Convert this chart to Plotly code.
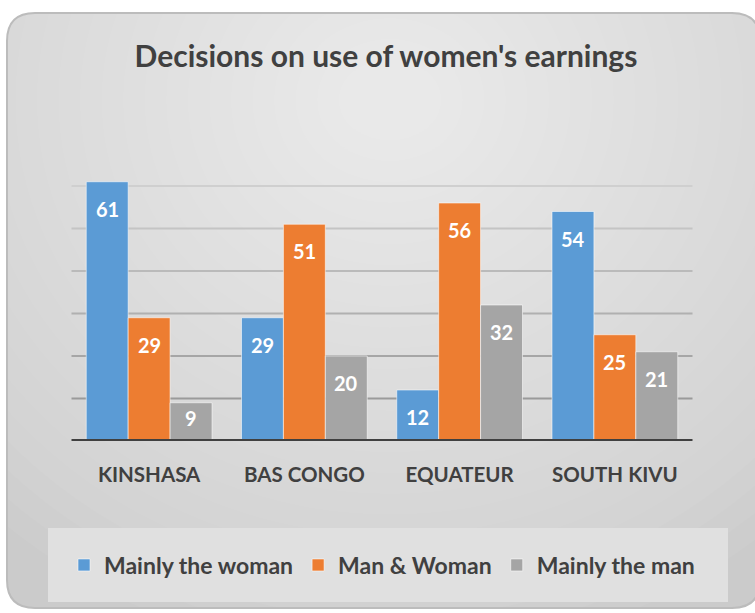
import plotly.graph_objects as go

categories = ["KINSHASA", "BAS CONGO", "EQUATEUR", "SOUTH KIVU"]
series_names = ["Mainly the woman", "Man & Woman", "Mainly the man"]
mainly_woman = [61, 29, 12, 54]
man_and_woman = [29, 51, 56, 25]
mainly_man = [9, 20, 32, 21]
grid_values = [10, 20, 30, 40, 50, 60]
title_text = "Decisions on use of women's earnings"

colors = ["#5b9bd5", "#ed7d31", "#a5a5a5"]
grid_colors = ["#9a9a9a", "#a6a6a6", "#b0b0b0", "#bababa", "#c4c4c4", "#cfcfcf"]
W, H = 755, 613
FONT = "Lato"
PLOT_X0, PLOT_X1 = 71.5, 692.5
BASE_Y, TOP_Y = 441, 177.5
Y_MAX = 62
BARGAP = 0.19


def px(x):
    return x / W


def py(y):
    return 1 - y / H


fig = go.Figure()
all_series = [mainly_woman, man_and_woman, mainly_man]
for name, vals, col in zip(series_names, all_series, colors):
    fig.add_trace(go.Bar(
        x=categories, y=vals, name=name,
        marker=dict(color=col, line=dict(color="rgba(255,255,255,0.55)", width=1)),
        hoverinfo="x+y+name",
    ))

# value labels (inside bars, below top)
cat_w = (PLOT_X1 - PLOT_X0) / len(categories)
bar_w = cat_w * (1 - BARGAP) / len(all_series)
unit_px = (BASE_Y - TOP_Y) / Y_MAX
annotations = []
for si, vals in enumerate(all_series):
    for cat, v in zip(categories, vals):
        bar_px = v * unit_px
        if bar_px > 50:
            yv, ys = v, -27
        else:
            yv, ys = v / 2, 4
        annotations.append(dict(
            x=cat, y=yv, xref="x", yref="y", text=str(v), showarrow=False,
            xshift=(si - 1) * bar_w, yshift=ys, yanchor="middle",
            font=dict(family=FONT, size=20, color="white", weight="bold"),
        ))


def rounded_rect(x0, y0, x1, y1, r):
    return (
        f"M {px(x0 + r)} {py(y0)} L {px(x1 - r)} {py(y0)} "
        f"Q {px(x1)} {py(y0)} {px(x1)} {py(y0 + r)} "
        f"L {px(x1)} {py(y1 - r)} Q {px(x1)} {py(y1)} {px(x1 - r)} {py(y1)} "
        f"L {px(x0 + r)} {py(y1)} Q {px(x0)} {py(y1)} {px(x0)} {py(y1 - r)} "
        f"L {px(x0)} {py(y0 + r)} Q {px(x0)} {py(y0)} {px(x0 + r)} {py(y0)} Z"
    )


shapes = []
card = rounded_rect(7, 13, 760, 608, 28)
shapes.append(dict(type="path", path=card, xref="paper", yref="paper",
                   fillcolor="#cbcbcb", line=dict(width=0), layer="below"))
# soft radial lightening layers (background gradient)
cx, cy = 390, 100
n = 26
for i in range(n):
    f = 1 - i / n
    rx, ry = 30 + 560 * f, 20 + 540 * f
    shapes.append(dict(type="circle", xref="paper", yref="paper",
                       x0=px(cx - rx), x1=px(cx + rx),
                       y0=py(cy + ry), y1=py(cy - ry),
                       fillcolor="white", opacity=0.045, line=dict(width=0), layer="below"))
# white mask outside the card
outer = (f"M {px(-5)} {py(-5)} L {px(770)} {py(-5)} L {px(770)} {py(620)} L {px(-5)} {py(620)} Z " + card)
shapes.append(dict(type="path", path=outer, xref="paper", yref="paper",
                   fillcolor="white", line=dict(width=0), layer="below", fillrule="evenodd"))
shapes.append(dict(type="path", path=card, xref="paper", yref="paper",
                   fillcolor="rgba(0,0,0,0)", line=dict(color="#bcbcbc", width=2), layer="below"))
# legend box
shapes.append(dict(type="rect", xref="paper", yref="paper",
                   x0=px(48), x1=px(728), y0=py(602), y1=py(528),
                   fillcolor="#e0e0e0", line=dict(width=0), layer="below"))
# gridlines
for gv, gc in zip(grid_values, grid_colors):
    shapes.append(dict(type="line", xref="paper", yref="y", x0=px(PLOT_X0), x1=px(PLOT_X1),
                       y0=gv, y1=gv, line=dict(color=gc, width=2), layer="below"))
# axis baseline
shapes.append(dict(type="line", xref="paper", yref="y", x0=px(PLOT_X0), x1=px(PLOT_X1), y0=0, y1=0,
                   line=dict(color="#404040", width=4)))

fig.update_layout(
    width=W, height=H, autosize=False,
    margin=dict(l=0, r=0, t=0, b=0),
    paper_bgcolor="white", plot_bgcolor="rgba(0,0,0,0)",
    barmode="group", bargap=BARGAP, bargroupgap=0,
    shapes=shapes, annotations=annotations,
    title=dict(text=title_text, x=px(386), xanchor="center", y=py(56), yanchor="middle",
               font=dict(family=FONT, size=30, color="#404040", weight="bold")),
    xaxis=dict(domain=[px(PLOT_X0), px(PLOT_X1)], showgrid=False, showline=False,
               ticks="", tickfont=dict(family=FONT, size=20.5, color="#404040", weight="bold"),
               ticklabelstandoff=19, fixedrange=True),
    yaxis=dict(domain=[py(BASE_Y), py(TOP_Y)], range=[0, Y_MAX], dtick=10,
               showgrid=False, showticklabels=False, zeroline=False, showline=False,
               fixedrange=True),
    legend=dict(orientation="h", x=px(382), xanchor="center", y=py(565), yanchor="middle",
                bgcolor="rgba(0,0,0,0)",
                font=dict(family=FONT, size=23, color="#404040", weight="bold"),
                itemwidth=30),
    showlegend=True,
)

fig.write_html("out.html", config={"displayModeBar": False},
               post_script="document.body.style.margin='0';document.body.style.overflow='hidden';")
